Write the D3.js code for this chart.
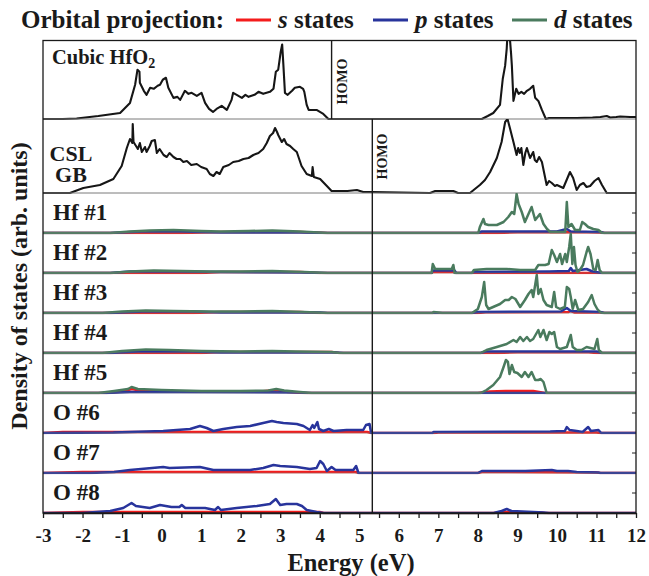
<!DOCTYPE html>
<html>
<head>
<meta charset="utf-8">
<script src="https://cdn.jsdelivr.net/npm/d3@7"></script>
<style>
  body { margin: 0; background: #fff; }
  svg { display: block; font-family: "Liberation Serif", "Times New Roman", serif; font-weight: bold; }
</style>
</head>
<body>
<svg id="chart"></svg>
<script>
var width = 649,
    height = 576;

// [energy (eV), DOS (arb. units)]
var cubicTotal = [[-3,0],[-2.5,0],[-2.15,0.5],[-1.6,3],[-1.05,6],[-0.8,16],[-0.67,34],[-0.61,49],[-0.56,47],[-0.55,36],[-0.45,28],[-0.38,24],[-0.29,31],[-0.2,30],[-0.1,33],[-0.04,34],[0.03,39],[0.11,41],[0.17,31],[0.3,21],[0.4,22],[0.47,19],[0.59,28],[0.68,25],[0.76,26],[0.89,23],[1.01,26],[1.1,16],[1.2,10],[1.3,7],[1.39,10],[1.52,13],[1.65,9],[1.77,19],[1.81,26],[1.9,24],[2.03,21],[2.12,24],[2.2,22],[2.35,24],[2.45,27],[2.57,25],[2.74,27],[2.83,30],[2.89,47],[2.95,49],[3.01,66],[3.05,74],[3.08,54],[3.12,26],[3.19,24],[3.3,28],[3.37,31],[3.5,32],[3.58,30],[3.61,27],[3.67,14],[3.72,9],[3.92,9],[4.09,5],[4.22,0],
  [8.1,0],[8.25,3],[8.39,6],[8.56,14],[8.63,40],[8.69,53],[8.73,70],[8.75,85],[8.8,85],[8.84,65],[8.86,53],[8.9,18],[8.97,30],[9.03,25],[9.1,27],[9.17,25],[9.24,28],[9.32,30],[9.4,33],[9.45,21],[9.53,18],[9.62,9],[9.72,0],[9.8,1],[10.5,1],[10.9,1.5],[11.1,2],[11.26,3],[11.35,1.5],[11.5,2],[11.6,2.5],[11.85,2],[12,2]];

var cslTotal = [[-3,0],[-2.32,0],[-1.98,5],[-1.56,8],[-1.22,14],[-1.01,27],[-0.88,45],[-0.8,54],[-0.74,50],[-0.73,69],[-0.71,51],[-0.6,44],[-0.55,50],[-0.5,41],[-0.42,46],[-0.38,41],[-0.3,47],[-0.25,52],[-0.17,53],[-0.12,40],[-0.05,44],[0.05,38],[0.13,36],[0.2,40],[0.3,36],[0.38,34],[0.47,34],[0.55,31],[0.64,32],[0.75,28],[0.89,29],[1,26],[1.14,24],[1.22,19],[1.31,17],[1.39,21],[1.47,19],[1.56,26],[1.7,28],[1.81,31],[1.95,32],[2.07,34],[2.2,35],[2.32,38],[2.45,40],[2.57,44],[2.66,50],[2.74,57],[2.82,60],[2.87,65],[2.92,61],[2.95,58],[3.04,51],[3.1,54],[3.16,49],[3.25,47],[3.33,44],[3.42,41],[3.54,27],[3.67,19],[3.8,17],[3.82,26],[3.85,16],[4.01,14],[4.18,7],[4.3,2],[4.7,2],[4.94,3],[5.1,1],[5.33,1],
  [6.79,0],[6.92,2],[7.38,2],[7.5,0],[7.8,0],[8.05,8],[8.18,13],[8.31,21],[8.48,35],[8.6,51],[8.69,71],[8.75,74],[8.81,65],[8.9,51],[8.98,38],[9.02,45],[9.06,40],[9.1,45],[9.15,28],[9.2,40],[9.24,45],[9.32,35],[9.4,41],[9.44,33],[9.49,31],[9.55,36],[9.62,31],[9.74,8],[9.8,12],[9.87,10],[9.95,7],[10,8],[10.16,5],[10.33,21],[10.41,15],[10.5,3],[10.58,8],[10.67,10],[10.75,6],[10.84,7],[10.95,12],[11.05,15],[11.14,8],[11.26,0],[12,0]];

var hf1S = [[-3,0],[0.5,0],[1.5,1],[3.5,1],[4.2,0],[8.5,0],[9,0.8],[10.5,1],[11.1,0.5],[11.2,0],[12,0]];
var hf1P = [[-3,0],[-1.3,0],[-0.5,1.5],[0.5,1.5],[1.5,0.5],[3.5,0.5],[4.2,0],[8,0],[8.1,1.5],[10,1.5],[10.25,4],[10.35,1.5],[11.1,1],[11.2,0],[12,0]];
var hf1D = [[-3,0],[-1.3,0],[-0.8,1.5],[-0.3,2.5],[0.3,3],[1,2],[1.5,1.5],[2.2,2],[2.8,2.5],[3.5,1.5],[4.2,0],[8.01,0],[8.05,6],[8.14,14],[8.18,9],[8.27,8],[8.48,8],[8.65,11],[8.77,16],[8.86,21],[8.92,19],[8.98,39],[9.03,29],[9.11,21],[9.19,11],[9.28,19],[9.36,26],[9.45,13],[9.57,19],[9.66,9],[9.75,4],[9.83,1],[10.21,1],[10.25,31],[10.29,6],[10.37,9],[10.46,3],[10.58,3],[10.64,11],[10.71,9],[10.79,6],[10.92,4],[11.05,3],[11.14,0],[12,0]];

var hf2S = [[-3,0],[1,0],[1.5,1],[3.5,1],[4,0],[6.83,0],[6.86,1],[7.41,1],[7.45,0],[12,0]];
var hf2P = [[-3,0],[-1.3,0],[-0.8,1.5],[0.5,1.5],[1.5,1],[3.5,0.5],[4.2,0],[6.83,0],[6.86,2.5],[7.41,2.5],[7.45,0],[7.85,0],[7.9,1],[9.8,1.5],[10.3,2],[10.35,5],[10.4,2],[10.75,4],[10.9,1.5],[11.14,0],[12,0]];
var hf2D = [[-3,0],[-1.3,0],[-0.8,1.5],[-0.2,2.5],[0.5,2],[1.2,1.5],[2,1.5],[2.8,2],[3.6,1],[4.2,0],[6.83,0],[6.86,9],[6.92,4],[7.34,4],[7.38,8],[7.41,0],[7.85,0],[7.9,3],[8.22,4],[8.73,4],[9.07,3],[9.45,3],[9.53,8],[9.7,8],[9.79,9],[9.87,23],[9.93,18],[10,11],[10.08,19],[10.13,9],[10.21,19],[10.25,11],[10.31,26],[10.35,39],[10.39,9],[10.43,26],[10.47,8],[10.52,1],[10.58,3],[10.66,8],[10.75,21],[10.79,26],[10.85,19],[10.92,4],[10.98,3],[11.03,13],[11.08,3],[11.14,0],[12,0]];

var hf3S = [[-3,0],[0.8,0],[1.5,1],[3.5,1],[4,0],[8,0],[8.2,0.8],[10.3,1],[10.35,2],[10.45,0.5],[11.1,0.5],[11.2,0],[12,0]];
var hf3P = [[-3,0],[-1.3,0],[-0.5,1.5],[0.8,1.5],[1.5,0.5],[4,0.5],[4.2,0],[7.85,0],[8,1],[10.1,1.5],[10.25,5],[10.35,2],[11.1,1],[11.2,0],[12,0]];
var hf3D = [[-3,0],[-1.5,0],[-1,1.5],[-0.4,2.5],[0.3,2],[1.2,1.5],[2,1.5],[2.8,2],[3.6,1],[4.2,0],[6.85,0],[6.88,1],[7,0.5],[7.1,0],[7.85,0],[8,4],[8.1,16],[8.16,31],[8.21,8],[8.27,4],[8.56,9],[8.69,13],[8.78,13],[8.86,16],[8.95,14],[9.07,6],[9.19,13],[9.28,19],[9.36,23],[9.4,16],[9.49,38],[9.53,19],[9.59,24],[9.66,13],[9.74,8],[9.87,6],[9.93,21],[9.98,6],[10.08,4],[10.2,6],[10.25,26],[10.31,24],[10.35,16],[10.4,4],[10.46,13],[10.54,3],[10.66,4],[10.79,11],[10.88,18],[10.95,9],[11.02,4],[11.09,1],[11.14,0],[12,0]];

var hf4S = [[-3,0],[1,0],[1.5,1],[4.3,1],[4.5,0],[8.5,0],[9,0.8],[10.8,0.8],[11,0],[12,0]];
var hf4P = [[-3,0],[-1.3,0],[-0.6,1.5],[0.8,1.5],[1.5,0.5],[4.4,0.5],[4.6,0],[8.07,0],[8.2,1.5],[11,1.5],[11.14,0],[12,0]];
var hf4D = [[-3,0],[-1.5,0],[-1,2],[-0.4,3.5],[0.2,3],[1,2],[2,1.5],[2.8,2],[3.4,1.5],[4.3,1],[4.5,0],[8.07,0],[8.22,3],[8.48,6],[8.73,9],[8.9,13],[8.98,11],[9.07,16],[9.15,12],[9.24,16],[9.32,12],[9.4,14],[9.53,23],[9.58,16],[9.66,23],[9.74,13],[9.81,21],[9.87,19],[9.93,21],[10,6],[10.08,4],[10.25,6],[10.35,18],[10.4,6],[10.5,3],[10.62,3],[10.75,6],[10.95,4],[11.02,14],[11.06,3],[11.14,0],[12,0]];

var hf5S = [[-3,0],[-1.4,0],[-1,1.5],[-0.75,4],[-0.5,2],[0.5,1.5],[2.5,1.5],[2.9,3],[3.2,1],[3.6,0],[8,0],[8.3,1.5],[8.7,2],[9.4,2],[9.7,0],[12,0]];
var hf5P = [[-3,0],[-1.4,0],[-0.8,1],[0.5,1],[3.5,0.5],[3.7,0],[12,0]];
var hf5D = [[-3,0],[-1.6,0],[-1.2,2],[-0.85,4],[-0.76,6],[-0.6,4],[0,3],[1,2],[2,2],[2.7,2.5],[2.9,4],[3.1,2.5],[3.5,1],[3.8,0],[8.07,0],[8.22,3],[8.39,8],[8.56,16],[8.65,26],[8.71,33],[8.76,31],[8.8,19],[8.86,28],[8.92,21],[9,20],[9.11,16],[9.19,21],[9.28,16],[9.36,21],[9.45,13],[9.53,13],[9.59,14],[9.66,11],[9.74,0],[12,0]];

var o6S = [[-3,0],[-2.5,1],[5.2,1],[5.3,0],[6.9,0],[7,0.5],[11,0.5],[11.1,0],[12,0]];
var o6P = [[-3,0],[-1.22,0.5],[0.04,2],[0.72,4],[0.97,7],[1.14,5],[1.31,2],[1.56,4],[1.9,6],[2.24,7],[2.57,10],[2.79,12],[2.91,11],[3.08,10],[3.42,9],[3.59,7],[3.75,3],[3.82,8],[3.86,5],[3.94,11],[3.98,4],[4.09,2],[4.23,4],[4.35,2],[4.68,3],[5.1,3],[5.17,8],[5.26,9],[5.3,0],[6.85,0],[6.88,1],[9.83,1.5],[10.2,2],[10.25,6],[10.32,3],[10.5,2],[10.65,1],[10.79,6],[10.86,2],[11.05,3],[11.12,0],[12,0]];

var o7S = [[-3,0],[-2,1],[4.9,1],[5,0],[8,0],[8.1,1],[11,0.5],[11.1,0],[12,0]];
var o7P = [[-3,0],[-1.8,0],[-1.2,1],[-0.8,3],[0.04,6],[0.2,5],[0.97,6],[1.31,3],[1.73,3],[2.24,3],[2.57,5],[2.83,8],[3,7],[3.42,6],[3.75,4],[3.92,5],[4.01,12],[4.09,9],[4.18,2],[4.3,6],[4.4,3],[4.85,3],[4.92,7],[4.98,0],[8,0],[8.05,1],[8.1,2],[9.2,2],[9.87,3],[10,2],[10.28,2],[10.5,1],[11.05,0.5],[11.1,0],[12,0]];

var o8S = [[-3,0],[-2,1],[4,1],[4.1,0],[8.4,0],[8.6,1],[9.6,0.5],[9.7,0],[12,0]];
var o8P = [[-3,0],[-2,0],[-1.3,2],[-0.97,5],[-0.76,10],[-0.65,7],[-0.3,5],[-0.04,8],[0.25,6],[0.45,6],[0.51,8],[0.6,5],[1.1,5],[1.35,3],[1.43,6],[1.5,3],[1.9,5],[2.41,7],[2.74,9],[2.89,14],[3,8],[3.16,9],[3.42,9],[3.55,7],[3.67,3],[3.92,1],[4.1,0],[8.4,0],[8.6,2],[8.73,4],[8.85,2],[9.67,0.5],[9.8,0],[12,0]];

var homoCubic = 4.3,
    homoGB = 5.33;

var legendItems = [['s', '#f41c1c'], ['p', '#28349c'], ['d', '#4a7b5e']];

var panels = [
    {label: ['Cubic HfO', '2'], h: 78.5, ymax: 78, total: cubicTotal, homo: homoCubic},
    {label: ['CSL', 'GB'], h: 74, ymax: 74, total: cslTotal, homo: homoGB},
    {label: 'Hf #1', h: 40, ymax: 40, s: hf1S, p: hf1P, d: hf1D},
    {label: 'Hf #2', h: 40, ymax: 40, s: hf2S, p: hf2P, d: hf2D},
    {label: 'Hf #3', h: 40, ymax: 40, s: hf3S, p: hf3P, d: hf3D},
    {label: 'Hf #4', h: 40, ymax: 40, s: hf4S, p: hf4P, d: hf4D},
    {label: 'Hf #5', h: 40, ymax: 40, s: hf5S, p: hf5P, d: hf5D},
    {label: 'O #6', h: 40, ymax: 40, s: o6S, p: o6P},
    {label: 'O #7', h: 40, ymax: 40, s: o7S, p: o7P},
    {label: 'O #8', h: 40, ymax: 40, s: o8S, p: o8P}
];

var x = d3.scaleLinear().domain([-3, 12]).range([43, 636]);
var frameTop = 40.5;

var svg = d3.select('#chart').attr('width', width).attr('height', height);
var defs = svg.append('defs');
var color = {s: legendItems[0][1], p: legendItems[1][1], d: legendItems[2][1]};

var midTick = (yy) => {
    svg.append('line')
        .attr('x1', x(12) - 4).attr('x2', x(12))
        .attr('y1', yy).attr('y2', yy)
        .attr('stroke', '#222');
};

var rowTop = frameTop;
panels.forEach((p, i) => {
    p.top = rowTop;
    rowTop += p.h;
    var bottom = p.top + p.h;
    var y = d3.scaleLinear().domain([0, p.ymax]).range([bottom, p.top]);
    var line = d3.line().x(d => x(d[0])).y(d => y(d[1]));

    defs.append('clipPath').attr('id', 'clip' + i)
        .append('rect')
        .attr('x', x(-3)).attr('y', p.top)
        .attr('width', x(12) - x(-3)).attr('height', p.h + 1.3);

    var g = svg.append('g').attr('clip-path', 'url(#clip' + i + ')');

    if (p.total) {
        g.append('path').datum(p.total)
            .attr('d', line)
            .attr('fill', 'none')
            .attr('stroke', '#161616')
            .attr('stroke-width', 2.1)
            .attr('stroke-linejoin', 'round');
    } else {
        ['s', 'p', 'd'].forEach(k => {
            if (!p[k]) return;
            g.append('path').datum(p[k])
                .attr('d', line)
                .attr('fill', 'none')
                .attr('stroke', color[k])
                .attr('stroke-width', 2.5)
                .attr('stroke-linejoin', 'round');
        });
        midTick(p.top + p.h / 2);
    }

    // separator under the panel
    if (i < panels.length - 1) {
        svg.append('line')
            .attr('x1', x(-3)).attr('x2', x(12))
            .attr('y1', bottom).attr('y2', bottom)
            .attr('stroke', '#7a7a7a')
            .attr('stroke-width', 1)
            .attr('opacity', p.total ? 1 : 0.5);
    }

    // panel label
    if (i === 0) {
        var t = svg.append('text')
            .attr('x', 52).attr('y', p.top + 23.5)
            .attr('font-size', 20.5)
            .attr('fill', '#1a1a1a');
        t.append('tspan').text(p.label[0]);
        t.append('tspan').attr('font-size', 14).attr('dy', 4).text(p.label[1]);
    } else if (i === 1) {
        p.label.forEach((s, j) => {
            svg.append('text')
                .attr('x', 71).attr('y', p.top + 42 + j * 21)
                .attr('text-anchor', 'middle')
                .attr('font-size', 22)
                .attr('fill', '#1a1a1a')
                .text(s);
        });
    } else {
        svg.append('text')
            .attr('x', 53).attr('y', p.top + 27)
            .attr('font-size', 23)
            .attr('fill', '#1a1a1a')
            .text(p.label);
    }
});

var frameBottom = rowTop;

// HOMO lines
var homoTop = [frameTop, panels[1].top];
var homoBottom = [panels[1].top, frameBottom];
var homoTextY = [frameTop + 41, panels[1].top + 37.5];
[homoCubic, homoGB].forEach((e, i) => {
    svg.append('line')
        .attr('x1', x(e)).attr('x2', x(e))
        .attr('y1', homoTop[i]).attr('y2', homoBottom[i])
        .attr('stroke', '#1a1a1a')
        .attr('stroke-width', 1.4);
    svg.append('text')
        .attr('transform', 'translate(' + (x(e) + 15) + ',' + homoTextY[i] + ') rotate(-90)')
        .attr('text-anchor', 'middle')
        .attr('font-size', 14)
        .attr('fill', '#1a1a1a')
        .text('HOMO');
});

// frame
svg.append('rect')
    .attr('x', x(-3)).attr('y', frameTop)
    .attr('width', x(12) - x(-3)).attr('height', frameBottom - frameTop)
    .attr('fill', 'none')
    .attr('stroke', '#1a1a1a')
    .attr('stroke-width', 1.3);

// x axis
var axis = d3.axisBottom(x)
    .tickValues(d3.range(-3, 12.01, 0.5))
    .tickSize(5)
    .tickSizeOuter(0)
    .tickPadding(11)
    .tickFormat(d => Number.isInteger(d) ? String(d) : '');

var ax = svg.append('g')
    .attr('transform', 'translate(0,' + frameBottom + ')')
    .call(axis);
ax.select('.domain').attr('stroke', '#1a1a1a').attr('stroke-width', 1.3);
ax.selectAll('.tick line').attr('stroke', '#1a1a1a').attr('stroke-width', 1.3);
ax.selectAll('.tick text')
    .attr('font-size', 19)
    .attr('font-family', '"Liberation Serif", serif')
    .attr('font-weight', 'bold')
    .attr('fill', '#1a1a1a');

svg.append('text')
    .attr('x', 351).attr('y', 571)
    .attr('text-anchor', 'middle')
    .attr('font-size', 24.5)
    .attr('fill', '#1a1a1a')
    .text('Energy (eV)');

svg.append('text')
    .attr('transform', 'translate(27,286) rotate(-90)')
    .attr('text-anchor', 'middle')
    .attr('font-size', 24)
    .attr('fill', '#1a1a1a')
    .text('Density of states (arb. units)');

// legend
svg.append('text')
    .attr('x', 21).attr('y', 28)
    .attr('font-size', 25)
    .attr('fill', '#1a1a1a')
    .text('Orbital projection:');

var legendX = [236, 373, 512];
legendItems.forEach((d, i) => {
    svg.append('line')
        .attr('x1', legendX[i]).attr('x2', legendX[i] + 35)
        .attr('y1', 20).attr('y2', 20)
        .attr('stroke', d[1])
        .attr('stroke-width', 3);
    var t = svg.append('text')
        .attr('x', legendX[i] + 42).attr('y', 28)
        .attr('font-size', 25)
        .attr('fill', '#1a1a1a');
    t.append('tspan').attr('font-style', 'italic').text(d[0]);
    t.append('tspan').text(' states');
});
</script>
</body>
</html>
